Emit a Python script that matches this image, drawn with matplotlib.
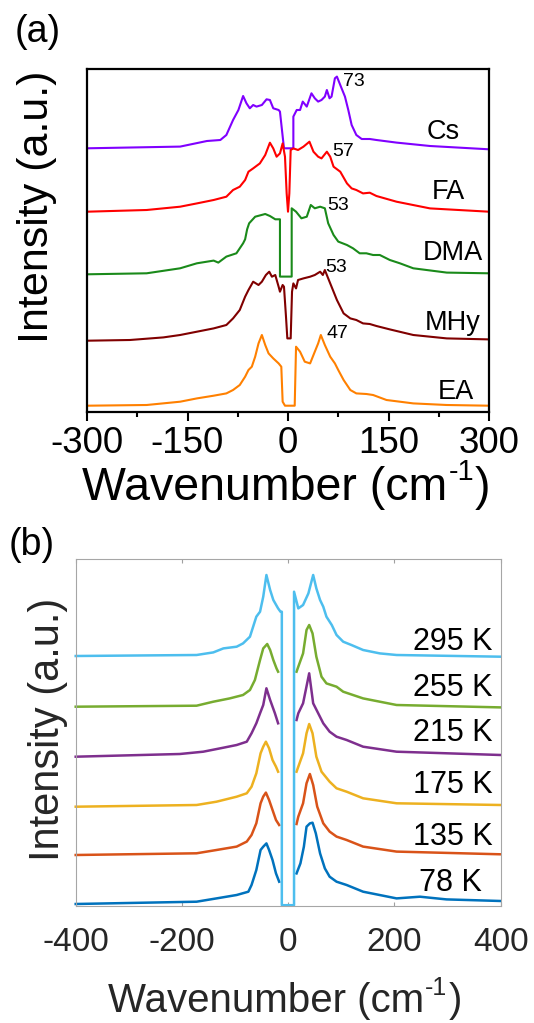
import numpy as np
import matplotlib
matplotlib.use("Agg")
import matplotlib.pyplot as plt

plt.rcParams['font.family'] = ['Liberation Sans', 'DejaVu Sans']
plt.rcParams['axes.unicode_minus'] = False

# ---------------- panel (a): cation series (wavenumber, intensity above baseline)
cs_x = [-300, -161, -121, -101, -92, -82, -74, -67, -62, -57, -52, -47, -39, -32, -27, -22, -14, -12, -9, -6,
        8, 8, 13, 18, 22, 28, 35, 40, 45, 50, 55, 58, 62, 65, 70, 73, 78, 85, 90, 95, 102, 110, 122, 132, 162, 212, 300]
cs_y = [0, 1.7, 7.3, 8.3, 13.3, 28.3, 38.3, 52.3, 45, 40, 43.3, 41.7, 43.3, 49, 48.3, 40, 38.3, 36.7, 18.3, 0,
        0, 31.7, 38.3, 38.3, 46.7, 41.7, 55, 50, 46.7, 48.3, 51.7, 58.3, 50, 51.7, 70, 71.7, 63.3, 51.7, 38.3, 23.3,
        13.3, 9.3, 9.3, 8.3, 5.7, 2.3, -1]

fa_x = [-300, -211, -161, -136, -111, -92, -82, -72, -64, -59, -52, -42, -34, -27, -22, -17, -12, -8, -4.5, -2,
        0, 2, 4, 8, 15, 23, 32, 38, 45, 50, 58, 63, 68, 78, 88, 95, 102, 112, 122, 132, 162, 212, 300]
fa_y = [0, 1.7, 5, 8.3, 11.7, 15, 21.7, 25, 31.7, 40, 43.3, 48.3, 56.7, 69, 63.3, 55, 58.3, 68.3, 55, 18.3,
        0, 18.3, 61.7, 63.3, 61.7, 65, 70, 60, 55, 53.3, 60, 55, 45, 40, 28.3, 23.3, 21.7, 18.3, 19, 15.7, 10, 3.3, 0]

dma_x = [-300, -211, -161, -136, -111, -104, -92, -77, -67, -64, -61, -58, -49, -34, -27, -19, -12, -12, 5.5, 5.5,
         12, 20, 28, 34, 40, 48, 55, 60, 68, 75, 88, 97, 107, 117, 127, 137, 152, 167, 187, 237, 300]
dma_y = [0, 1, 6, 11, 13.7, 11.7, 17.7, 21, 31, 35, 45, 51, 57.6, 60.3, 58.3, 55, 55, -2.3, -2.3, 66,
         62.6, 56, 57.6, 69.3, 66, 67.6, 66, 51, 39.3, 32.7, 29.3, 26, 21, 21, 19.3, 19.3, 14.3, 11, 6, 1.7, 1]

mhy_x = [-300, -236, -186, -161, -136, -111, -92, -82, -72, -64, -59, -52, -44, -39, -33, -28, -24, -19, -14, -12,
         -8, -6, -3, -1, 4, 6, 8, 12, 15, 23, 33, 40, 48, 52, 55, 60, 65, 73, 83, 93, 102, 112, 122, 132, 152, 187, 237, 300]
mhy_y = [0, 0.7, 3.3, 5.7, 9, 12.3, 15.7, 22.3, 30.7, 44, 50.7, 59, 55.7, 59, 65.7, 69, 64, 65.7, 54, 49,
         55.7, 54, 24, 2.3, 2.3, 49, 57.3, 52.3, 60.7, 62.3, 64, 65.7, 69, 65.7, 70.7, 62.3, 54, 40.7, 27.3, 22.3,
         20.7, 17.3, 16.7, 14.7, 11.3, 5.7, 2.3, 1.3]

ea_x = [-300, -211, -161, -136, -111, -92, -82, -72, -64, -59, -54, -49, -44, -39, -34, -29, -22, -14, -10, -8,
        -4.5, 10, 12, 18, 25, 33, 40, 45, 49, 55, 63, 70, 75, 83, 93, 102, 117, 127, 147, 187, 237, 300]
ea_y = [0, 0.7, 4, 7.3, 10, 12.3, 15.7, 20.7, 29, 35.7, 39, 49, 62.3, 70.7, 60.7, 52.3, 47.3, 42.3, 39, 4,
        0, 0, 59, 54, 44, 42.3, 54, 62.3, 70.7, 60.7, 49, 42.3, 35.7, 25.7, 15.7, 12.3, 11.7, 10.7, 5.7, 2.3, 0.7, 0]

names_a = ['Cs', 'FA', 'DMA', 'MHy', 'EA']
peaks_a = ['73', '57', '53', '53', '47']
offsets_a = [263.7, 200.3, 137.7, 71.3, 6.3]
colors_a = ['#8000ff', '#ff0000', '#1a8a1a', '#800000', '#ff8000']

# ---------------- panel (b): temperature series (nan = removed laser line)
nan = np.nan
t78_x = [-400, -172.5, -135, -97, -75, -69, -60, -52, -47, -41, -36, -29.5, -23, -17, nan,
         15.7, 23, 29.5, 34.5, 40.8, 45.8, 52, 60, 69, 78, 91, 110, 141, 204, 248, 298, 400]
t78_y = [-1.3, 1, 4.3, 7.7, 11, 17.7, 32.7, 52.7, 56, 59.3, 52.7, 42.7, 29.3, 21, nan,
         29.3, 39.3, 56, 76, 79.3, 80, 69.3, 49.3, 34.3, 26, 21, 17.7, 11, 4.3, 6, 3.3, 1.7]

t135_x = [-400, -172.5, -135, -97, -78, -69, -60, -52, -47, -42, -36, -29.5, -23, -17, nan,
          15.7, 19, 28, 34.5, 40.8, 47, 54.6, 66, 78, 91, 110, 141, 204, 400]
t135_y = [-0.7, 1, 4.3, 7.7, 12.7, 19.3, 31, 51, 57.7, 61.7, 54.3, 44.3, 34.3, 29.3, nan,
          30.3, 37.7, 51, 71, 80.3, 69.3, 47.7, 31, 22.7, 17.7, 14.3, 7.7, 2.7, 0]

t175_x = [-400, -172.5, -135, -97, -78, -69, -60, -52, -47, -42, -36, -29.5, -23, -19, nan,
          15.7, 19, 28, 34.5, 39.5, 45.8, 53, 62.7, 78, 91, 110, 141, 204, 400]
t175_y = [-0.7, 1, 4.3, 9.3, 12.7, 19.3, 32.7, 52.7, 59.3, 64.3, 57.7, 46, 39.3, 34.3, nan,
          34.3, 39.3, 52.7, 72.7, 82, 72.7, 49.3, 34.3, 24.3, 17.7, 14.3, 7.7, 2.7, 1]

t215_x = [-400, -204, -160, -122, -97, -78, -69, -60, -53, -47, -41, -34, -25, -19, nan,
          15.7, 19, 28, 39.5, 47, 56.5, 66, 78, 91, 110, 141, 204, 400]
t215_y = [-0.7, 2, 4.3, 8.3, 11, 14.3, 22.7, 32.7, 42.7, 51, 67.7, 56, 42.7, 32.7, nan,
          36, 42.7, 52.7, 82.7, 52.7, 42.7, 32.7, 24.3, 19.3, 16, 9.3, 4.3, 1]

t255_x = [-400, -172.5, -141, -110, -85, -72, -62.7, -53, -47, -39.5, -34, -28, -22, -19, nan,
          15.7, 19, 28, 34.5, 39.5, 45.8, 53, 62.7, 72, 91, 103.5, 141, 204, 400]
t255_y = [0, 1, 5, 8.3, 11.7, 16.7, 26.7, 46.7, 58.3, 62.7, 56.7, 46.7, 38.3, 35, nan,
          35, 40, 53.3, 76.7, 81.7, 73.3, 50, 30, 23.3, 20, 15, 8.3, 1.7, -0.7]

t295_x = [-400, -172.5, -141, -122, -97, -85, -72, -66, -60, -53, -47, -41, -34, -28, -19, -14.5,
          -12, -12, 11, 11, 19, 28, 38, 47, 53, 60, 66, 72, 82, 91, 103.5, 119, 141, 172.5, 204, 400]
t295_y = [0.7, 1.7, 4.3, 8.3, 10, 13.3, 20, 30, 40, 45, 60, 81.7, 66.7, 56.7, 48.3, 45,
          45, -248.5, -248.5, 65, 48.3, 51.7, 63.3, 81.7, 68.3, 56.7, 50, 40, 31.7, 21.7, 15, 11.7, 6.7, 3.3, 1.7, 0]

temps = ['78 K', '135 K', '175 K', '215 K', '255 K', '295 K']
offsets_b = [3.3, 51.7, 100, 150, 199.3, 249.3]
colors_b = ['#0072bd', '#d95319', '#edb120', '#7e2f8e', '#77ac30', '#4dbeee']

W, H = 534, 1023
fig = plt.figure(figsize=(W / 100, H / 100), dpi=100)


def wavenumber_label(x, y, size, color):
    # "Wavenumber (cm" + raised "-1" + ")", hyphen kept as in the original
    t = fig.text(x, y, 'Wavenumber (cm', fontsize=size, ha='left', va='baseline', color=color)
    r = fig.canvas.get_renderer()
    bb = t.get_window_extent(r)
    s = fig.text(bb.x1 / W + 0.002, y + size * 0.42 / 72 * 100 / H, '-1', fontsize=size * 0.62,
                 ha='left', va='baseline', color=color)
    bb2 = s.get_window_extent(r)
    fig.text(bb2.x1 / W + 0.002, y, ')', fontsize=size, ha='left', va='baseline', color=color)


# ---------- (a)
ax = fig.add_axes([87 / W, 1 - 412 / H, 402 / W, 343 / H])
series_a = [(cs_x, cs_y), (fa_x, fa_y), (dma_x, dma_y), (mhy_x, mhy_y), (ea_x, ea_y)]
for (x, y), off, c in zip(series_a, offsets_a, colors_a):
    ax.plot(x, np.array(y) + off, color=c, lw=1.5)
ax.set_xlim(-300, 300)
ax.set_ylim(0, 343)
ax.set_xticks([-300, -150, 0, 150, 300])
ax.set_xticks([-225, -75, 75, 225], minor=True)
ax.set_yticks([])
ax.tick_params(axis='x', which='major', direction='out', length=6.5, width=1.5, labelsize=26.5, pad=3.5)
ax.tick_params(axis='x', which='minor', direction='out', length=3.6, width=1.5)
for s in ax.spines.values():
    s.set_linewidth(1.6)

name_pos = [(232, 280), (240, 220), (246, 159), (246, 89), (250, 20)]
peak_pos = [(82, 330), (66, 260), (58, 207), (55, 144), (57, 79)]
for n, p, npos, ppos in zip(names_a, peaks_a, name_pos, peak_pos):
    ax.text(npos[0], npos[1], n, fontsize=19.5, ha='center', va='center')
    ax.text(ppos[0], ppos[1], p, fontsize=14, ha='left', va='center')

fig.text(38 / W, 1 - 32 / H, '(a)', fontsize=27, ha='center', va='center')
wavenumber_label(82 / W, 1 - 500 / H, 33.5, 'black')
fig.text(37 / W, 1 - 206.5 / H, 'Intensity (a.u.)', fontsize=31, ha='center', va='center', rotation=90)

# ---------- (b)
bx = fig.add_axes([75.7 / W, 1 - 906 / H, 425 / W, 346.7 / H])
series_b = [(t78_x, t78_y), (t135_x, t135_y), (t175_x, t175_y), (t215_x, t215_y), (t255_x, t255_y), (t295_x, t295_y)]
for (x, y), off, c in zip(series_b, offsets_b, colors_b):
    bx.plot(x, np.array(y) + off, color=c, lw=1.8, clip_on=False)
bx.set_xlim(-400, 400)
bx.set_ylim(0, 346.7)
bx.set_xticks([-400, -200, 0, 200, 400])
bx.set_yticks([])
bx.tick_params(axis='x', direction='in', top=True, length=3, width=0.8, color='#a0a0a0',
               labelsize=24, labelcolor='#262626', pad=15)
for s in bx.spines.values():
    s.set_linewidth(0.8)
    s.set_color('#a6a6a6')

temp_pos = [(365, 23), (385, 69.3), (385, 121), (385, 173), (385, 218), (385, 264.3)]
for t, tp in zip(temps, temp_pos):
    bx.text(tp[0], tp[1], t, fontsize=22, ha='right', va='center')

fig.text(32 / W, 1 - 545 / H, '(b)', fontsize=27, ha='center', va='center')
wavenumber_label(108 / W, 1 - 1012 / H, 29, '#262626')
fig.text(47.5 / W, 1 - 729 / H, 'Intensity (a.u.)', fontsize=30, ha='center', va='center', rotation=90,
         color='#262626')

fig.savefig('out.png', dpi=100)
